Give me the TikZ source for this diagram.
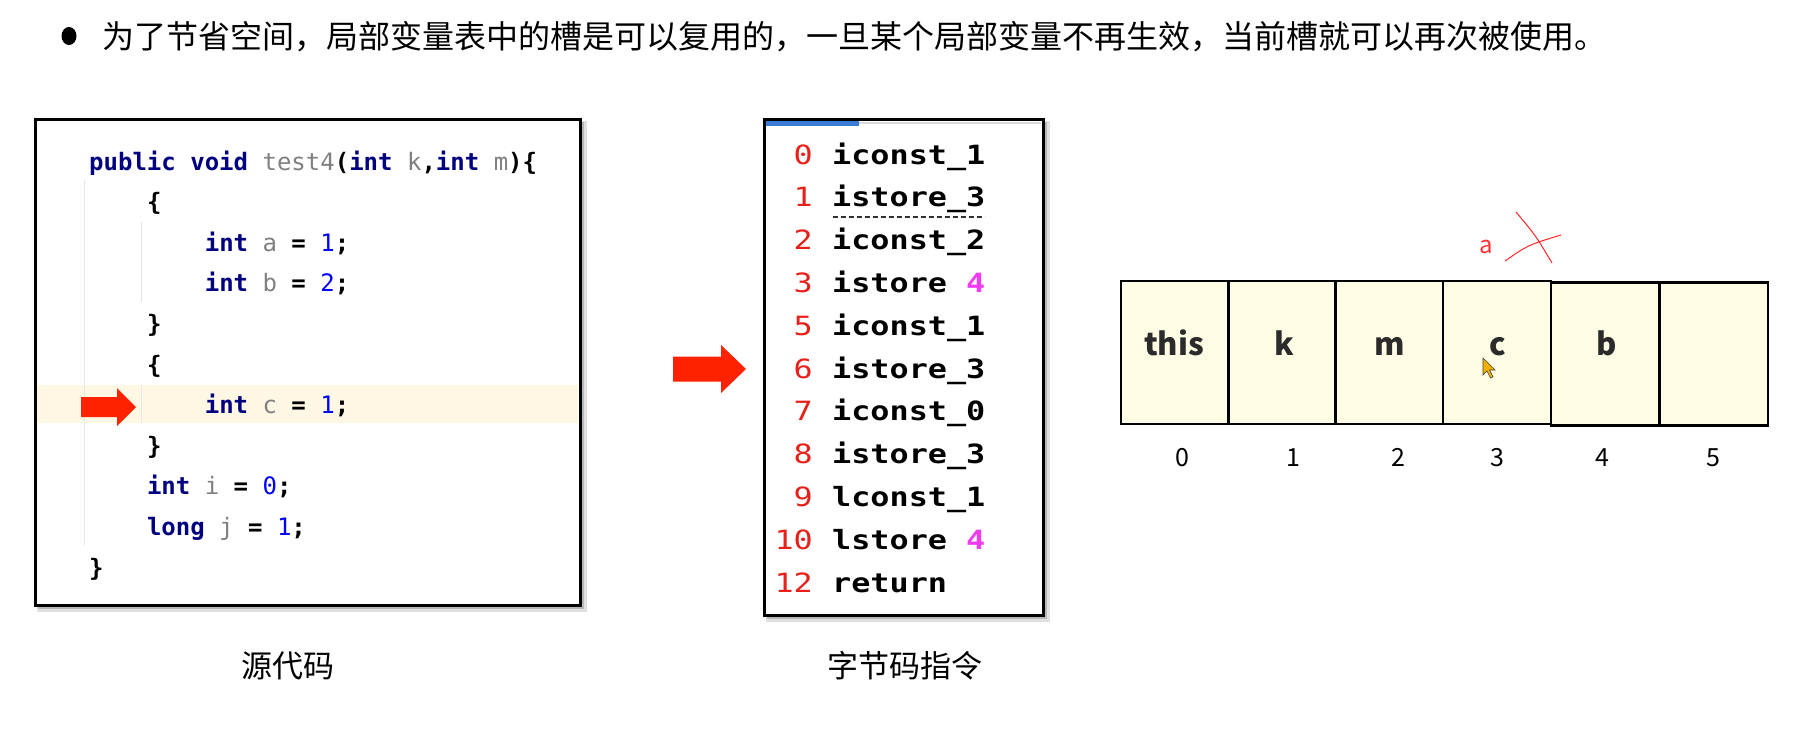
\documentclass[tikz,border=0pt]{standalone}
\usepackage{fontspec}
\setmainfont{Noto Sans CJK SC}
\newfontfamily\cjk{Noto Sans CJK SC}
\newfontfamily\codefont{DejaVu Sans Mono}
\newfontfamily\bcfont[FakeStretch=1.2]{DejaVu Sans Mono}
\definecolor{kw}{HTML}{000080}
\definecolor{varc}{HTML}{808080}
\definecolor{numc}{HTML}{0000FF}
\definecolor{hl}{HTML}{FDF7E3}
\definecolor{arrowred}{HTML}{FF2200}
\definecolor{bcred}{HTML}{E8201A}
\definecolor{bcmag}{HTML}{F03CF0}
\definecolor{cellfill}{HTML}{FEFCE4}
\definecolor{barblue}{HTML}{3A7BD5}
\definecolor{cursorc}{HTML}{F2B100}
\definecolor{guide}{HTML}{E6E6E6}
\definecolor{cellink}{HTML}{2B2B2B}
\newcommand\Kw[1]{\textcolor{kw}{#1}}
\newcommand\Vr[1]{\textcolor{varc}{\mdseries #1}}
\newcommand\Nm[1]{\textcolor{numc}{\mdseries #1}}
\newcommand\Mg[1]{\textcolor{bcmag}{#1}}
\begin{document}
\begin{tikzpicture}[x=1pt,y=-1pt,
  codeline/.style={anchor=base west, inner sep=0pt, font=\codefont\bfseries\fontsize{24}{28}\selectfont},
  bcnum/.style={anchor=base east, inner sep=0pt, text=bcred, font=\bcfont\fontsize{26.5}{30}\selectfont},
  bcins/.style={anchor=base west, inner sep=0pt, font=\bcfont\bfseries\fontsize{26.5}{30}\selectfont},
  capt/.style={inner sep=0pt, font=\cjk\fontsize{31}{34}\selectfont},
  cell/.style={draw=black, line width=2.5pt, fill=cellfill, minimum width=108, minimum height=143, inner sep=0pt},
  celltext/.style={anchor=base, inner sep=0pt, text=cellink, font=\cjk\bfseries\fontsize{31}{34}\selectfont},
  idx/.style={anchor=base, inner sep=0pt, font=\cjk\fontsize{25}{28}\selectfont},
  frame/.style={draw=black, line width=3pt, fill=white},
  redline/.style={draw=red!85!white, line width=1pt}
]
\useasboundingbox (0,0) rectangle (1809,729);
\fill[white] (0,0) rectangle (1809,729);

% ---- title ----
\fill[black] (69,36) ellipse [x radius=7.5pt, y radius=9pt];
\node[anchor=west, inner sep=0pt, font=\cjk\fontsize{32}{36}\selectfont] (title) at (102,37)
  {为了节省空间，局部变量表中的槽是可以复用的，一旦某个局部变量不再生效，当前槽就可以再次被使用。};

% ---- source code box ----
\fill[black, opacity=0.12] (37,121) rectangle (587,612);
\fill[black, opacity=0.18] (38,122) rectangle (584,609);
\path[frame] (35,119) rectangle (580,605);
\fill[hl] (37,385) rectangle (578,423);
\draw[guide, line width=1pt] (84,180) -- (84,545);
\draw[guide, line width=1pt] (141,222) -- (141,302);
\draw[guide, line width=1pt] (141,385) -- (141,423);
\fill[arrowred] (81,397) -- (117,397) -- (117,388) -- (136,407) -- (117,426) -- (117,417) -- (81,417) -- cycle;

\node[codeline] (l0) at (89,170) {\Kw{public} \Kw{void} \Vr{test4}(\Kw{int} \Vr{k},\Kw{int} \Vr{m})\{};
\node[codeline] (l1) at (146.8,210.6) {\{};
\node[codeline] (l2) at (204.6,251.2) {\Kw{int} \Vr{a} = \Nm{1};};
\node[codeline] (l3) at (204.6,291.8) {\Kw{int} \Vr{b} = \Nm{2};};
\node[codeline] (l4) at (146.8,332.4) {\}};
\node[codeline] (l5) at (146.8,373.0) {\{};
\node[codeline] (l6) at (204.6,413.6) {\Kw{int} \Vr{c} = \Nm{1};};
\node[codeline] (l7) at (146.8,454.2) {\}};
\node[codeline] (l8) at (146.8,494.8) {\Kw{int} \Vr{i} = \Nm{0};};
\node[codeline] (l9) at (146.8,535.4) {\Kw{long} \Vr{j} = \Nm{1};};
\node[codeline] (l10) at (89,576.0) {\}};

\node[capt] (srclabel) at (288,666) {源代码};

% ---- arrow to bytecode ----
\fill[arrowred] (673,356.5) -- (721,356.5) -- (721,345) -- (746,369) -- (721,393) -- (721,381.5) -- (673,381.5) -- cycle;

% ---- bytecode box ----
\fill[black, opacity=0.12] (766,121) rectangle (1050,622);
\fill[black, opacity=0.18] (767,122) rectangle (1047,619);
\path[frame] (764,119) rectangle (1043,615);
\draw[black!15, line width=2pt] (859,123) -- (1041,123);
\fill[barblue] (766,121) rectangle (859,125.5);

\node[bcnum] (n0) at (813,164.0) {0};   \node[bcins] (b0) at (832,164.0) {iconst\_1};
\node[bcnum] (n1) at (813,206.8) {1};   \node[bcins] (b1) at (832,206.8) {istore\_3};
\node[bcnum] (n2) at (813,249.6) {2};   \node[bcins] (b2) at (832,249.6) {iconst\_2};
\node[bcnum] (n3) at (813,292.4) {3};   \node[bcins] (b3) at (832,292.4) {istore \Mg{4}};
\node[bcnum] (n5) at (813,335.2) {5};   \node[bcins] (b5) at (832,335.2) {iconst\_1};
\node[bcnum] (n6) at (813,378.0) {6};   \node[bcins] (b6) at (832,378.0) {istore\_3};
\node[bcnum] (n7) at (813,420.8) {7};   \node[bcins] (b7) at (832,420.8) {iconst\_0};
\node[bcnum] (n8) at (813,463.6) {8};   \node[bcins] (b8) at (832,463.6) {istore\_3};
\node[bcnum] (n9) at (813,506.4) {9};   \node[bcins] (b9) at (832,506.4) {lconst\_1};
\node[bcnum] (n10) at (813,549.2) {10}; \node[bcins] (b10) at (832,549.2) {lstore \Mg{4}};
\node[bcnum] (n12) at (813,592.0) {12}; \node[bcins] (b12) at (832,592.0) {return};
\draw[black!80, line width=1.2pt, dash pattern=on 5pt off 3pt] (833,217) -- (985,217);

\node[capt] (bclabel) at (905,666) {字节码指令};

% ---- local variable table ----
\node[cell] (c0) at (1175,352.5) {};
\node[cell] (c1) at (1282.5,352.5) {};
\node[cell] (c2) at (1389.5,352.5) {};
\node[cell] (c3) at (1497,352.5) {};
\node[cell] (c4) at (1605,354) {};
\node[cell] (c5) at (1714,354) {};

\node[celltext] (t0) at (1174,355) {this};
\node[celltext] (t1) at (1284,355) {k};
\node[celltext] (t2) at (1390,355) {m};
\node[celltext] (t3) at (1498,355) {c};
\node[celltext] (t4) at (1607,355) {b};

\node[idx] (i0) at (1182,466) {0};
\node[idx] (i1) at (1293,466) {1};
\node[idx] (i2) at (1398,466) {2};
\node[idx] (i3) at (1497,466) {3};
\node[idx] (i4) at (1602,466) {4};
\node[idx] (i5) at (1713,466) {5};

% ---- red annotation ----
\node[anchor=base, inner sep=0pt, text=red!80!white, font=\cjk\fontsize{24}{28}\selectfont] (alab) at (1486,253) {a};
\draw[redline] (1516,212) .. controls (1536,236) .. (1552,263);
\draw[redline] (1505,261) .. controls (1528,245) .. (1561,235);

% ---- mouse cursor ----
\filldraw[fill=cursorc, draw=black!75, line width=0.6pt] (1483,358) -- ++(0,17) -- ++(4,-4) -- ++(3.5,7) -- ++(2.5,-1.2) -- ++(-3.5,-6.8) -- ++(5.5,0) -- cycle;
\end{tikzpicture}
\end{document}
